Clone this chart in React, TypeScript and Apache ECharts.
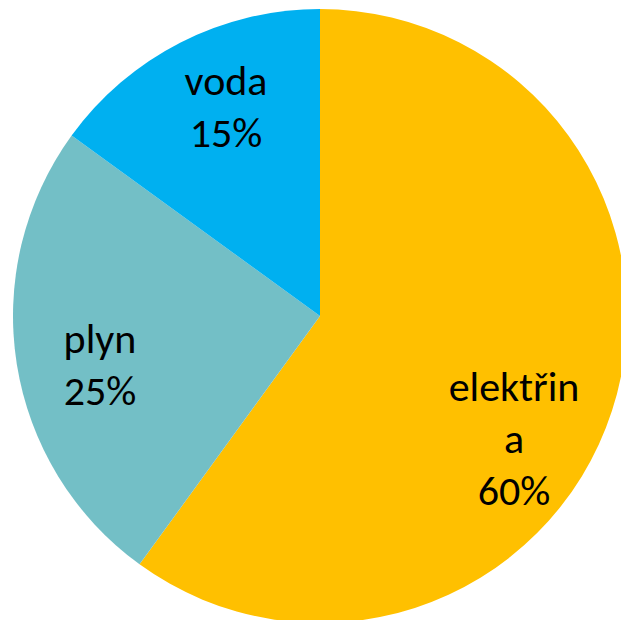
import React, { useEffect, useRef } from "react";
import * as echarts from "echarts";

const categories = ["elektřina", "plyn", "voda"];
const values = [60, 25, 15];
const colors = ["#FFC000", "#73BFC6", "#00B0F0"];

// label block centers relative to pie center (per slice)
const labelOffsets = [
  [194, 122],
  [-220, 48],
  [-94, -210],
];

// emulate the original label's character wrapping (max chars per line)
const maxLineChars = 8;

function wrap(s: string): string {
  const out: string[] = [];
  for (let i = 0; i < s.length; i += maxLineChars) out.push(s.slice(i, i + maxLineChars));
  return out.join("\n");
}

export default function App() {
  const ref = useRef<HTMLDivElement>(null);
  useEffect(() => {
    if (!ref.current) return;
    const chart = echarts.init(ref.current, undefined, { renderer: "svg" });
    const cx = 320;
    const cy = 316;
    chart.setOption({
      animation: false,
      series: [
        {
          type: "pie",
          center: [cx, cy],
          radius: 307,
          startAngle: 90,
          clockwise: true,
          silent: true,
          itemStyle: { borderWidth: 0 },
          label: {
            show: true,
            position: "inside",
            formatter: (p: any) => wrap(p.name) + "\n" + Math.round(p.percent) + "%",
            color: "#000",
            fontSize: 42,
            fontFamily: "Carlito, 'Open Sans', sans-serif",
            lineHeight: 52,
            align: "center",
          },
          labelLine: { show: false },
          labelLayout: (params: any) => {
            const o = labelOffsets[params.dataIndex];
            return {
              x: cx + o[0],
              y: cy + o[1],
              align: "center",
              verticalAlign: "middle",
            };
          },
          data: categories.map((name, i) => ({
            name,
            value: values[i],
            itemStyle: { color: colors[i] },
          })),
        },
      ],
    });
    return () => chart.dispose();
  }, []);
  return (
    <div
      ref={ref}
      style={{ position: "fixed", left: 0, top: 0, width: 621, height: 620, background: "#fff" }}
    />
  );
}
